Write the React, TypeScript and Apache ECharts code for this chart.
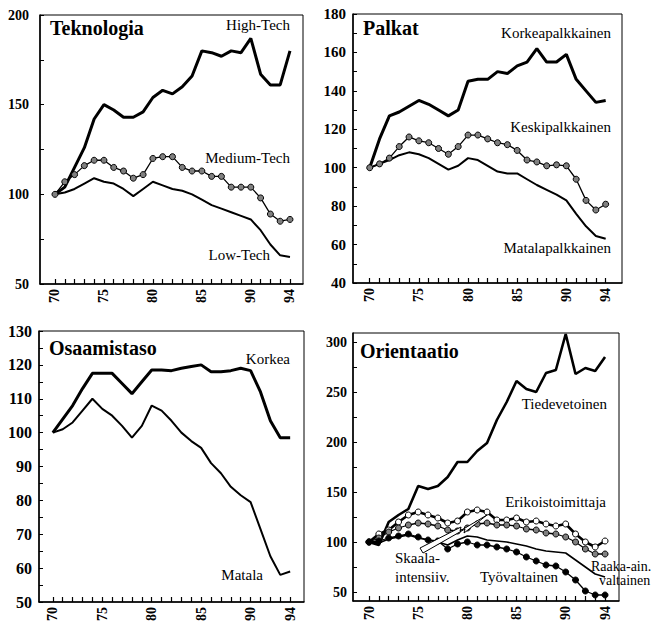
import { useEffect, useRef } from "react";
import * as echarts from "echarts";

const FONT = "'Liberation Serif', 'Times New Roman', serif";

const years = [70, 71, 72, 73, 74, 75, 76, 77, 78, 79, 80, 81, 82, 83, 84, 85, 86, 87, 88, 89, 90, 91, 92, 93, 94];
const yearLabels = [70, 75, 80, 85, 90, 94];

// Teknologia
const highTech = [100, 104, 115, 126, 142, 150, 147, 143, 143, 146, 154, 158, 156, 160, 166, 180, 179, 177, 180, 179, 187, 167, 161, 161, 180];
const mediumTech = [100, 107, 111, 116, 119, 119, 115, 113, 109, 111, 120, 121, 121, 115, 113, 113, 110, 110, 104, 104, 104, 98, 89, 85, 86];
const lowTech = [100, 101, 103, 106, 109, 107, 106, 103, 99, 103, 107, 105, 103, 102, 100, 97, 94, 92, 90, 88, 86, 80, 72, 66, 65];
const tekTicks = [50, 75, 100, 125, 150, 175, 200];
const tekLabels = [50, 100, 150, 200];

// Palkat
const korkeapalkkainen = [100, 115, 127, 129, 132, 135, 133, 130, 127, 130, 145, 146, 146, 150, 149, 153, 155, 162, 155, 155, 159, 146, 140, 134, 135];
const keskipalkkainen = [100, 102, 105, 111, 116, 114, 113, 110, 107, 111, 117, 117, 115, 113, 112, 109, 104, 103, 101, 101.5, 101, 94, 83, 78, 81];
const matalapalkkainen = [100, 102, 104, 106.5, 108, 107, 105, 102, 99, 101, 105, 104, 101, 98, 97, 97, 94, 91, 88.5, 86, 83, 76, 69.5, 64.5, 63];
const palTicks = [40, 50, 60, 70, 80, 90, 100, 110, 120, 130, 140, 150, 160, 170, 180];
const palLabels = [40, 60, 80, 100, 120, 140, 160, 180];

// Osaamistaso
const korkea = [100, 104, 108, 113, 117.5, 117.5, 117.5, 114.5, 111.5, 115, 118.5, 118.5, 118.3, 119, 119.5, 120, 118, 118, 118.3, 119, 118.3, 112, 103.5, 98.5, 98.5];
const matala = [100, 101, 103, 106.5, 110, 107, 105, 102, 98.5, 102, 108, 106.5, 103.5, 100, 97.5, 95.5, 91, 88, 84, 81.5, 79.5, 71.5, 63.5, 58, 59];
const osaTicks = [50, 55, 60, 65, 70, 75, 80, 85, 90, 95, 100, 105, 110, 115, 120, 125, 130];
const osaLabels = [50, 60, 70, 80, 90, 100, 110, 120, 130];

// Orientaatio
const tiedevetoinen = [100, 97, 120, 127, 133, 156, 153, 156, 165, 180, 180, 191, 199, 222, 240, 261, 253, 250, 269, 272, 308, 268, 274, 271, 285];
const skaalaIntensiiv = [100, 108, 112, 120, 127, 130, 127, 124, 119, 121, 130, 132, 130, 122, 122, 124, 120, 121, 118, 116, 118, 108, 100, 95, 101];
const erikoistoimittaja = [100, 104, 110, 114, 117, 119, 118, 116, 112, 111, 114, 118, 119, 117, 117, 116, 113, 112, 109, 108, 105, 100, 93, 88, 88];
const raakaAinevaltainen = [100, 99, 103, 105, 107, 104, 102, 100, 97, 102, 106, 105, 102, 101, 100, 98, 96, 93, 91, 90, 89, 82, 75, 68, 65];
const tyovaltainen = [100, 101, 104, 106, 108, 105, 102, 101, 93, 98, 100, 97, 97, 95, 93, 90, 85, 81, 77, 76, 70, 62, 51, 47, 47];
const oriTicks = [50, 75, 100, 125, 150, 175, 200, 225, 250, 275, 300];
const oriLabels = [50, 100, 150, 200, 250, 300];

const pairs = (vals: number[]) => years.map((y, i) => [y, vals[i]]);

export default function App() {
  const ref = useRef<HTMLDivElement>(null);
  useEffect(() => {
    if (!ref.current) return;
    const chart = echarts.init(ref.current, null, { renderer: "svg" });

    const grids = [
      { left: 40, top: 15, width: 263, height: 269 },
      { left: 353, top: 14, width: 269, height: 269 },
      { left: 39, top: 331, width: 265, height: 271 },
      { left: 353, top: 333, width: 266, height: 268 },
    ].map((g) => ({ ...g, show: true, borderColor: "#000", borderWidth: 1, backgroundColor: "transparent" }));

    const xRanges = [
      [68.47, 95.33],
      [68.3, 95.66],
      [68.6, 95.4],
      [68.37, 95.42],
    ];
    const yRanges = [
      [50, 200],
      [40, 180],
      [50, 130],
      [41, 309],
    ];
    const yTicks = [tekTicks, palTicks, osaTicks, oriTicks];
    const yLabs = [tekLabels, palLabels, osaLabels, oriLabels];
    const yFont = [14, 15, 16, 14];
    const yMargin = [11, 7, 7, 6];

    const xAxis = xRanges.map((r, i) => ({
      type: "value",
      gridIndex: i,
      min: r[0],
      max: r[1],
      axisLine: { show: true, onZero: false, lineStyle: { color: "#000", width: 1.5 } },
      axisTick: { show: true, inside: true, length: 5, customValues: years, lineStyle: { color: "#000", width: 1.2 } },
      axisLabel: {
        customValues: yearLabels,
        rotate: 90,
        margin: 5,
        fontFamily: FONT,
        fontWeight: "bold",
        fontSize: 14,
        color: "#000",
      },
      splitLine: { show: false },
    }));

    const yAxis = yRanges.map((r, i) => ({
      type: "value",
      gridIndex: i,
      min: r[0],
      max: r[1],
      axisLine: { show: true, onZero: false, lineStyle: { color: "#000", width: 1.5 } },
      axisTick: { show: true, inside: true, length: 4, customValues: yTicks[i], lineStyle: { color: "#000", width: 1 } },
      axisLabel: {
        customValues: yLabs[i],
        margin: yMargin[i],
        fontFamily: FONT,
        fontWeight: "bold",
        fontSize: yFont[i],
        color: "#000",
      },
      splitLine: { show: false },
    }));

    const line = (name: string, idx: number, vals: number[], width: number, symbol?: { fill: string; size: number }) => ({
      type: "line",
      name,
      xAxisIndex: idx,
      yAxisIndex: idx,
      data: pairs(vals),
      symbol: symbol ? "circle" : "none",
      symbolSize: symbol ? symbol.size : 0,
      showSymbol: !!symbol,
      lineStyle: { color: "#000", width },
      itemStyle: symbol ? { color: symbol.fill, borderColor: "#000", borderWidth: 1 } : { color: "#000" },
      emphasis: { disabled: true },
    });

    const series = [
      line("High-Tech", 0, highTech, 3),
      line("Medium-Tech", 0, mediumTech, 1.3, { fill: "#808080", size: 6 }),
      line("Low-Tech", 0, lowTech, 2),
      line("Korkeapalkkainen", 1, korkeapalkkainen, 3),
      line("Keskipalkkainen", 1, keskipalkkainen, 1.3, { fill: "#808080", size: 6 }),
      line("Matalapalkkainen", 1, matalapalkkainen, 2),
      line("Korkea", 2, korkea, 3),
      line("Matala", 2, matala, 2),
      line("Tiedevetoinen", 3, tiedevetoinen, 2.6),
      line("Skaala-intensiiv.", 3, skaalaIntensiiv, 2.6, { fill: "#fff", size: 6 }),
      line("Erikoistoimittaja", 3, erikoistoimittaja, 1.3, { fill: "#808080", size: 6 }),
      line("Raaka-ain. valtainen", 3, raakaAinevaltainen, 1.6),
      line("Työvaltainen", 3, tyovaltainen, 1.3, { fill: "#000", size: 6 }),
    ];

    const txt = (text: string, x: number, y: number, size: number, align: string, bold = false) => ({
      type: "text",
      z: 100,
      style: {
        text,
        x,
        y,
        textAlign: align,
        textVerticalAlign: "middle",
        fontFamily: FONT,
        fontSize: size,
        fontWeight: bold ? "bold" : "normal",
        fill: "#000",
      },
    });

    const graphic = [
      txt("Teknologia", 50, 28, 20, "left", true),
      txt("High-Tech", 290, 25, 15, "right"),
      txt("Medium-Tech", 290, 158, 15, "right"),
      txt("Low-Tech", 270, 255, 15, "right"),
      txt("Palkat", 363, 28, 20, "left", true),
      txt("Korkeapalkkainen", 611, 33, 15, "right"),
      txt("Keskipalkkainen", 611, 127, 15, "right"),
      txt("Matalapalkkainen", 611, 248, 15, "right"),
      txt("Osaamistaso", 49, 348, 20, "left", true),
      txt("Korkea", 290, 359, 15, "right"),
      txt("Matala", 263, 575, 15, "right"),
      txt("Orientaatio", 360, 351, 20, "left", true),
      txt("Tiedevetoinen", 607, 404, 15, "right"),
      txt("Erikoistoimittaja", 606, 502, 15, "right"),
      txt("Skaala-", 395, 558, 15, "left"),
      txt("intensiiv.", 395, 577, 15, "left"),
      txt("Työvaltainen", 480, 577, 15, "left"),
      txt("Raaka-ain.", 591, 566, 14, "left"),
      txt("valtainen", 599, 580, 14, "left"),
      {
        type: "polygon",
        z: 90,
        shape: {
          points: [
            [420, 548],
            [461, 527],
            [460, 531],
            [487, 515],
            [464, 533],
            [465, 529],
            [423, 553],
          ],
        },
        style: { fill: "#fff", stroke: "#000", lineWidth: 1 },
      },
    ];

    chart.setOption({
      animation: false,
      backgroundColor: "#fff",
      grid: grids,
      xAxis,
      yAxis,
      series,
      graphic,
    });
    return () => chart.dispose();
  }, []);
  return <div ref={ref} style={{ position: "fixed", left: 0, top: 0, width: 653, height: 626 }} />;
}
